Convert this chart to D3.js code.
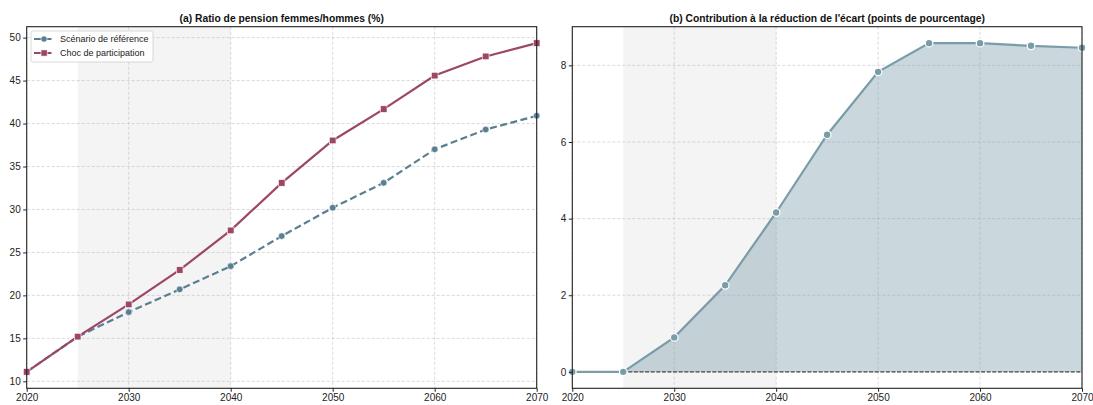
<!DOCTYPE html>
<html><head><meta charset="utf-8">
<script src="https://cdn.jsdelivr.net/npm/d3@7"></script>
<style>
body{margin:0;background:#fff;}
svg{font-family:"Liberation Sans",Arial,Helvetica,sans-serif;}
</style></head>
<body>
<svg id="chart" width="1093" height="405"></svg>
<script>
const years = [2020,2025,2030,2035,2040,2045,2050,2055,2060,2065,2070];
const baseline = [11.1,15.2,18.05,20.7,23.4,26.9,30.2,33.1,37.0,39.3,40.9];
const shock = [11.1,15.2,18.95,22.96,27.56,33.09,38.03,41.68,45.58,47.81,49.36];
const contribution = [0,0,0.9,2.26,4.16,6.19,7.83,8.58,8.58,8.51,8.46];
const xTicks = [2020,2030,2040,2050,2060,2070];
const yTicksA = [10,15,20,25,30,35,40,45,50];
const yTicksB = [0,2,4,6,8];
const shadeRange = [2025,2040];
const seriesNames = ["Scénario de référence","Choc de participation"];
const titles = ["(a) Ratio de pension femmes/hommes (%)","(b) Contribution à la réduction de l'écart (points de pourcentage)"];

const colBlue = "#5a7e92", colRed = "#9c4668", colB = "#7a9ca8";
const svg = d3.select("#chart");

function panel(x0, x1, yDomain, yTicks, title){
  const top = 26.7, bottom = 388.3;
  const x = d3.scaleLinear().domain([2020,2070]).range([x0,x1]);
  const y = d3.scaleLinear().domain(yDomain).range([bottom,top]);
  const g = svg.append("g");
  // shading
  g.append("rect").attr("x",x(shadeRange[0])).attr("y",top)
   .attr("width",x(shadeRange[1])-x(shadeRange[0])).attr("height",bottom-top)
   .attr("fill","#808080").attr("fill-opacity",0.09);
  // grid
  g.append("g").selectAll("line").data(xTicks).join("line")
   .attr("x1",d=>x(d)).attr("x2",d=>x(d)).attr("y1",top).attr("y2",bottom)
   .attr("stroke","#b0b0b0").attr("stroke-opacity",0.6).attr("stroke-width",0.8).attr("stroke-dasharray","3,2");
  g.append("g").selectAll("line").data(yTicks).join("line")
   .attr("y1",d=>y(d)).attr("y2",d=>y(d)).attr("x1",x0).attr("x2",x1)
   .attr("stroke","#b0b0b0").attr("stroke-opacity",0.6).attr("stroke-width",0.8).attr("stroke-dasharray","3,2");
  // title
  svg.append("text").attr("x",(x0+x1)/2).attr("y",21.5).attr("text-anchor","middle")
   .attr("font-size","10.3px").attr("font-weight","bold").attr("fill","#111").text(title);
  return {g,x,y,top,bottom,x0,x1};
}

function axes(p, yTicks){
  const ax = svg.append("g").attr("transform",`translate(0,${p.bottom})`)
    .call(d3.axisBottom(p.x).tickValues(xTicks).tickFormat(d3.format("d")).tickSize(3.5).tickPadding(2));
  const ay = svg.append("g").attr("transform",`translate(${p.x0},0)`)
    .call(d3.axisLeft(p.y).tickValues(yTicks).tickSize(3.5).tickPadding(2.5));
  [ax,ay].forEach(a=>{
    a.select(".domain").remove();
    a.selectAll("text").attr("font-size","10px").attr("fill","#222")
     .attr("font-family","'Liberation Sans',Arial,sans-serif");
    a.selectAll("line").attr("stroke","#222");
  });
  svg.append("rect").attr("x",p.x0).attr("y",p.top).attr("width",p.x1-p.x0).attr("height",p.bottom-p.top)
   .attr("fill","none").attr("stroke","#222").attr("stroke-width",1.1);
}

// Panel A
const pa = panel(26.7, 536.7, [9.187,51.27], yTicksA, titles[0]);
const lineA = d3.line().x((d,i)=>pa.x(years[i])).y(d=>pa.y(d));
pa.g.append("path").datum(baseline).attr("d",lineA).attr("fill","none")
  .attr("stroke",colBlue).attr("stroke-width",2.2).attr("stroke-dasharray","7,3.5");
pa.g.append("path").datum(shock).attr("d",lineA).attr("fill","none")
  .attr("stroke",colRed).attr("stroke-width",2.2);
pa.g.append("g").selectAll("circle").data(baseline).join("circle")
  .attr("cx",(d,i)=>pa.x(years[i])).attr("cy",d=>pa.y(d)).attr("r",3.3)
  .attr("fill",colBlue).attr("stroke","#fff").attr("stroke-width",0.6);
pa.g.append("g").selectAll("rect").data(shock).join("rect")
  .attr("x",(d,i)=>pa.x(years[i])-3.3).attr("y",d=>pa.y(d)-3.3).attr("width",6.6).attr("height",6.6)
  .attr("fill",colRed).attr("stroke","#fff").attr("stroke-width",0.6);
axes(pa, yTicksA);

// legend
const lg = svg.append("g");
lg.append("rect").attr("x",31).attr("y",31).attr("width",122).attr("height",31).attr("rx",2)
  .attr("fill","#fff").attr("fill-opacity",0.85).attr("stroke","#d0d0d0").attr("stroke-width",0.8);
[[colBlue,"circle",39],[colRed,"square",53]].forEach((e,i)=>{
  lg.append("line").attr("x1",34).attr("x2",54).attr("y1",e[2]).attr("y2",e[2])
    .attr("stroke",e[0]).attr("stroke-width",2.2).attr("stroke-dasharray",i===0?"7,3.5":"7,3.5");
  if(e[1]==="circle") lg.append("circle").attr("cx",44).attr("cy",e[2]).attr("r",3.1).attr("fill",e[0]).attr("stroke","#fff").attr("stroke-width",0.6);
  else lg.append("rect").attr("x",41).attr("y",e[2]-3.1).attr("width",6.2).attr("height",6.2).attr("fill",e[0]).attr("stroke","#fff").attr("stroke-width",0.6);
  lg.append("text").attr("x",60).attr("y",e[2]+3.2).attr("font-size","9px").attr("fill","#222").text(seriesNames[i]);
});

// Panel B
const pb = panel(572.3, 1082, [-0.429,9.009], yTicksB, titles[1]);
const areaB = d3.area().x((d,i)=>pb.x(years[i])).y0(pb.y(0)).y1(d=>pb.y(d));
pb.g.append("path").datum(contribution).attr("d",areaB).attr("fill",colB).attr("fill-opacity",0.4);
pb.g.append("line").attr("x1",pb.x0).attr("x2",pb.x1).attr("y1",pb.y(0)).attr("y2",pb.y(0))
  .attr("stroke","#444").attr("stroke-width",1.1).attr("stroke-dasharray","4,1.6");
const lineB = d3.line().x((d,i)=>pb.x(years[i])).y(d=>pb.y(d));
pb.g.append("path").datum(contribution).attr("d",lineB).attr("fill","none")
  .attr("stroke",colB).attr("stroke-width",2.2);
pb.g.append("g").selectAll("circle").data(contribution).join("circle")
  .attr("cx",(d,i)=>pb.x(years[i])).attr("cy",d=>pb.y(d)).attr("r",3.8)
  .attr("fill",colB).attr("stroke","#fff").attr("stroke-width",1.2);
axes(pb, yTicksB);
</script>
</body></html>
